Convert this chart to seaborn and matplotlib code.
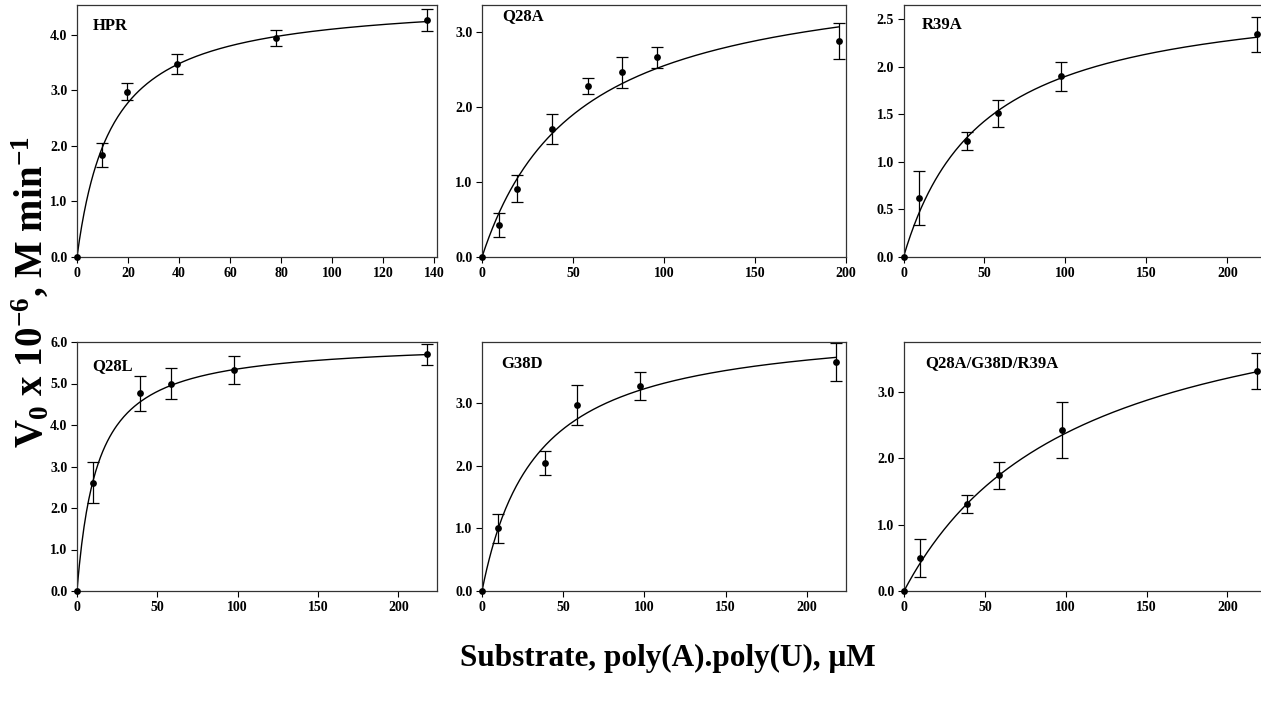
import numpy as np
import matplotlib
matplotlib.use("Agg")
import matplotlib.pyplot as plt
import seaborn as sns

# panel names
panels = ["HPR", "Q28A", "R39A", "Q28L", "G38D", "Q28A/G38D/R39A"]

# substrate concentrations (uM) for each panel
x_hpr = [0, 9.75, 19.5, 39, 78, 137]
x_q28a = [0, 9.5, 19, 38.5, 58, 77, 96, 196]
x_r39a = [0, 9.75, 39, 58.5, 97.5, 218]
x_q28l = [0, 9.75, 39, 58.5, 97.5, 218]
x_g38d = [0, 9.75, 39, 58.5, 97.5, 218]
x_triple = [0, 9.75, 39, 58.5, 97.5, 218]

# initial velocities (x 10^-6 M/min)
v_hpr = [0, 1.84, 2.98, 3.47, 3.95, 4.27]
v_q28a = [0, 0.42, 0.91, 1.71, 2.28, 2.46, 2.66, 2.88]
v_r39a = [0, 0.62, 1.22, 1.51, 1.90, 2.34]
v_q28l = [0, 2.61, 4.76, 5.00, 5.32, 5.70]
v_g38d = [0, 1.00, 2.04, 2.97, 3.28, 3.66]
v_triple = [0, 0.50, 1.31, 1.74, 2.42, 3.31]

# error bars (+/-)
e_hpr = [0, 0.21, 0.15, 0.18, 0.145, 0.20]
e_q28a = [0, 0.16, 0.18, 0.20, 0.10, 0.20, 0.135, 0.235]
e_r39a = [0, 0.28, 0.09, 0.145, 0.15, 0.185]
e_q28l = [0, 0.49, 0.42, 0.37, 0.34, 0.26]
e_g38d = [0, 0.23, 0.19, 0.32, 0.22, 0.31]
e_triple = [0, 0.29, 0.14, 0.20, 0.42, 0.27]

# Michaelis-Menten fit parameters
fit_vmax = [4.66, 3.89, 2.83, 6.03, 4.30, 4.92]
fit_km = [13.5, 52.5, 49.0, 12.7, 33.0, 107.0]

xs = [x_hpr, x_q28a, x_r39a, x_q28l, x_g38d, x_triple]
vs = [v_hpr, v_q28a, v_r39a, v_q28l, v_g38d, v_triple]
es = [e_hpr, e_q28a, e_r39a, e_q28l, e_g38d, e_triple]

# axis setup
x_max = [141, 200, 222, 224, 224, 222]
x_step = [20, 50, 50, 50, 50, 50]
y_max = [4.54, 3.36, 2.65, 6.0, 3.98, 3.75]
y_ticks = [
    [0, 1, 2, 3, 4],
    [0, 1, 2, 3],
    [0, 0.5, 1.0, 1.5, 2.0, 2.5],
    [0, 1, 2, 3, 4, 5, 6],
    [0, 1, 2, 3],
    [0, 1, 2, 3],
]

sns.set_style("ticks")
plt.rcParams["font.family"] = ["Liberation Serif", "DejaVu Serif"]
plt.rcParams["font.weight"] = "bold"
plt.rcParams["text.color"] = "black"
plt.rcParams["mathtext.fontset"] = "custom"
plt.rcParams["mathtext.rm"] = "Liberation Serif:bold"
plt.rcParams["mathtext.bf"] = "Liberation Serif:bold"
plt.rcParams["mathtext.it"] = "Liberation Serif:bold"

W, H = 1261, 701
fig = plt.figure(figsize=(W / 100, H / 100), dpi=100)


def rect(l, r, t, b):
    return [l / W, 1 - b / H, (r - l) / W, (b - t) / H]


boxes = [
    rect(77, 437, 5, 257),
    rect(482, 846, 5, 257),
    rect(903.5, 1263, 5, 257),
    rect(77, 437, 342, 591),
    rect(482, 846, 342, 591),
    rect(904, 1263, 342, 591),
]
label_pos = [(0.045, 0.915), (0.055, 0.955), (0.051, 0.92),
             (0.042, 0.905), (0.052, 0.91), (0.059, 0.915)]

for i, name in enumerate(panels):
    ax = fig.add_axes(boxes[i])
    xc = np.linspace(0, max(xs[i]), 300)
    yc = fit_vmax[i] * xc / (fit_km[i] + xc)
    sns.lineplot(x=xc, y=yc, ax=ax, color="black", linewidth=1.0)
    ax.errorbar(xs[i][1:], vs[i][1:], yerr=es[i][1:], fmt="none",
                ecolor="black", elinewidth=0.9, capsize=4.5, capthick=0.9)
    sns.scatterplot(x=xs[i], y=vs[i], ax=ax, color="black", s=24,
                    edgecolor="black", linewidth=0, zorder=5, clip_on=False)
    ax.set_xlim(0, x_max[i])
    ax.set_ylim(0, y_max[i])
    ax.set_xticks(np.arange(0, x_max[i] + 0.1, x_step[i]))
    ax.set_yticks(y_ticks[i])
    ax.set_xticklabels([f"{int(t)}" for t in ax.get_xticks()])
    ax.set_yticklabels([f"{t:.1f}" for t in y_ticks[i]])
    ax.tick_params(direction="out", length=4, width=0.8, labelsize=10,
                   colors="black", pad=3)
    for s in ax.spines.values():
        s.set_visible(True)
        s.set_color("#333333")
        s.set_linewidth(0.9)
    ax.set_xlabel("")
    ax.set_ylabel("")
    ax.text(label_pos[i][0], label_pos[i][1], name, transform=ax.transAxes,
            fontsize=12, fontweight="bold", va="center", ha="left",
            color="black")

fig.text(30 / W, 1 - 292 / H,
         r"V$_{0}$ x 10$^{-6}$, M min$^{-1}$",
         rotation=90, fontsize=28, fontweight="bold", ha="center",
         va="center", color="black")
fig.text(668 / W, 1 - 658 / H, "Substrate, poly(A).poly(U), μM",
         fontsize=22.5, fontweight="bold", ha="center", va="center",
         color="black")

fig.savefig("out.png", dpi=100)
